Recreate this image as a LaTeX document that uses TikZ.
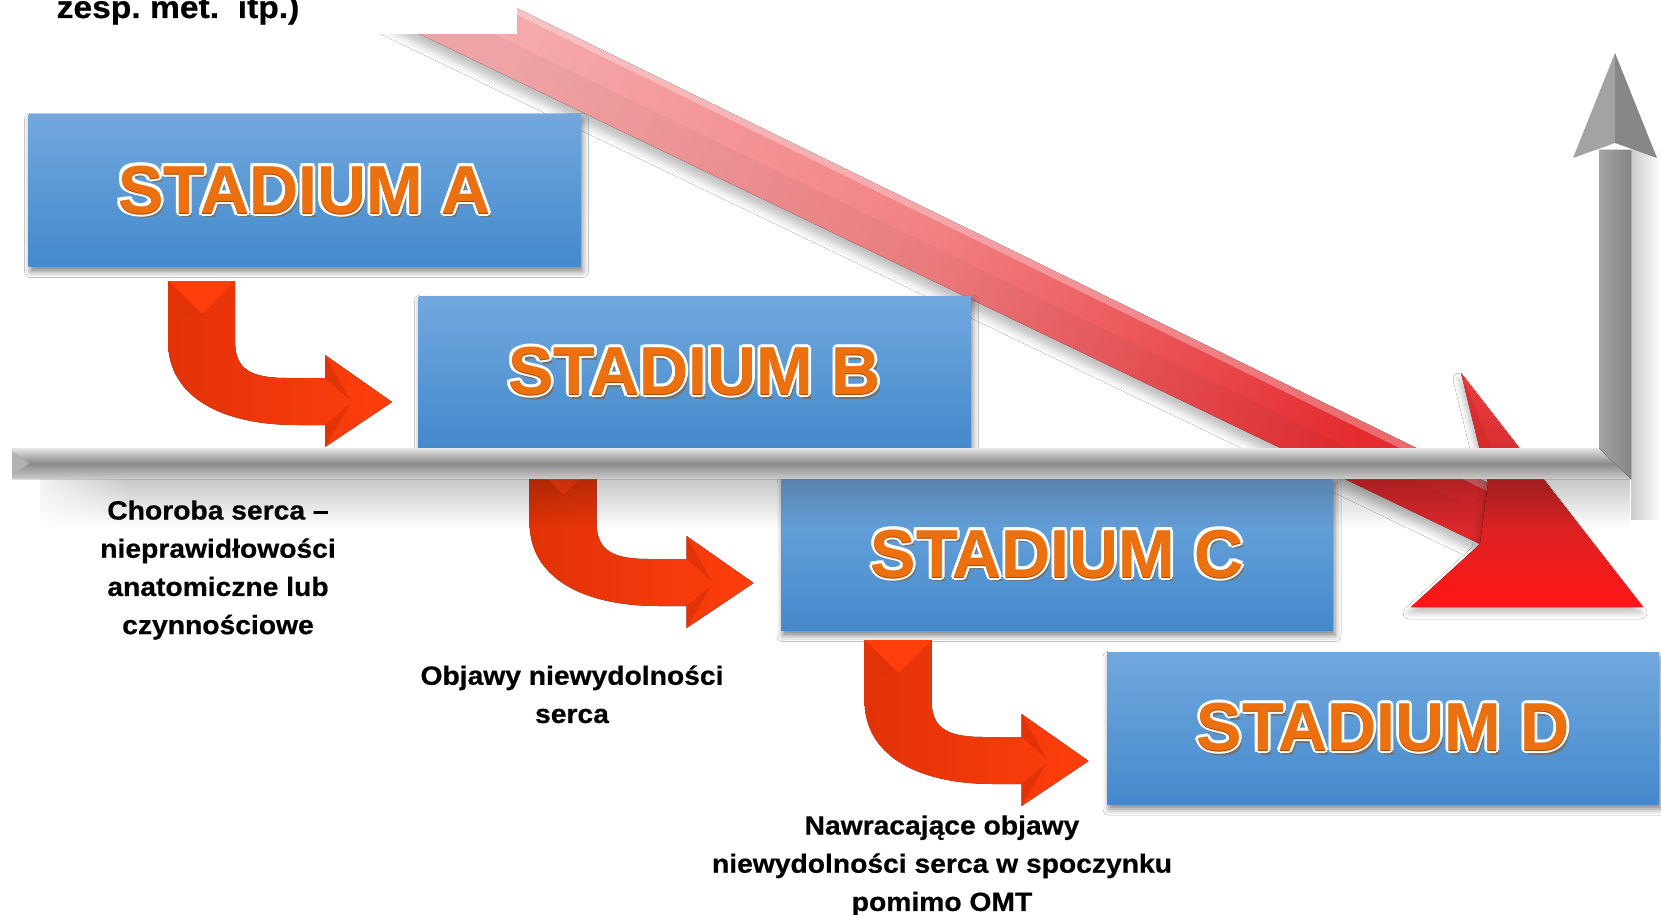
\documentclass[tikz,border=0pt]{standalone}
\usepackage{fontspec}
\setmainfont{Liberation Sans}
\newfontfamily\labelfont{Liberation Sans}[FakeStretch=1.07, BoldFeatures={FakeBold=0.6}]
\usetikzlibrary{shadows.blur,fadings}

% palette
\definecolor{boxtop}{RGB}{113,168,222}
\definecolor{boxbot}{RGB}{68,137,204}
\definecolor{stagetxt}{RGB}{236,112,14}
\definecolor{stageedge}{RGB}{180,70,0}
\definecolor{bendlight}{RGB}{255,62,12}
\definecolor{benddark}{RGB}{226,50,8}
\definecolor{trendlight}{RGB}{246,170,172}
\definecolor{trendmid}{RGB}{242,128,131}
\definecolor{trenddark}{RGB}{228,42,46}
\definecolor{headtop}{RGB}{236,62,64}
\definecolor{headmid}{RGB}{206,38,40}
\definecolor{headbot}{RGB}{255,22,22}

% outlined lettering: shadow, white rim, bevel edge, orange face
\newcommand\offcopy[3]{\rlap{\hspace*{#1}\raisebox{#2}{#3}}}
\newcommand\glowtext[1]{%
  {\color{black!55}\offcopy{1.6pt}{-2.4pt}{#1}}%
  {\color{white}%
   \offcopy{1.5pt}{0pt}{#1}\offcopy{-1.5pt}{0pt}{#1}%
   \offcopy{0pt}{1.5pt}{#1}\offcopy{0pt}{-1.5pt}{#1}%
   \offcopy{1.1pt}{1.1pt}{#1}\offcopy{-1.1pt}{1.1pt}{#1}%
   \offcopy{1.1pt}{-1.1pt}{#1}\offcopy{-1.1pt}{-1.1pt}{#1}}%
  {\color{stageedge}\offcopy{0pt}{-0.6pt}{#1}}%
  \textcolor{stagetxt}{#1}}

\tikzset{
  stagebox/.style={minimum width=276pt, minimum height=76pt, inner sep=0pt,
    top color=boxtop, bottom color=boxbot,
    font=\fontsize{34}{36}\selectfont\bfseries,
    blur shadow={shadow xshift=1pt, shadow yshift=-2.5pt,
                 shadow blur radius=3pt, shadow opacity=50}},
  note/.style={align=center, inner sep=0pt, anchor=north,
    font=\labelfont\bfseries\fontsize{13.2}{19.1}\selectfont\frenchspacing},
  bentarrow/.pic={
    \fill[left color=benddark, right color=bendlight]
      (-224,-121) -- (-157,-121) -- (-157,-60)
      .. controls (-157,-32) and (-140,-24) .. (-105,-24)
      -- (-67,-24) -- (-67,-47) -- (0,0) -- (-67,45) -- (-67,23) -- (-95,23)
      .. controls (-175,23) and (-224,-8) .. (-224,-60) -- cycle;
    \fill[bendlight] (-224,-121) -- (-157,-121) -- (-190,-88) -- cycle;
    \fill[benddark] (-224,-121) -- (-190,-88) -- (-224,-80) -- cycle;
    \fill[benddark] (-67,-47) -- (-42,-2) -- (-67,-24) -- cycle;
    \fill[benddark] (-67,45) -- (-42,2) -- (-67,23) -- cycle;
  }
}

\begin{document}
\begin{tikzpicture}[x=0.5pt, y=-0.5pt]
\useasboundingbox (0,0) rectangle (1661,915);
\fill[white] (0,0) rectangle (1661,915);

% descending trend arrow
\fill[top color=trendlight, bottom color=trenddark, middle color=trendmid,
      shading angle=64,
      blur shadow={shadow xshift=0pt, shadow yshift=-5pt,
                   shadow blur radius=4pt, shadow opacity=25}]
  (349,0) -- (500,0) -- (1488,483) -- (1480,544) -- cycle;
\fill[black, opacity=0.03] (349,0) -- (424,0) -- (1484,513) -- (1480,544) -- cycle;
\fill[white, opacity=0.3] (500,0) -- (1488,483) -- (1487,491) -- (495,4) -- cycle;
\fill[top color=headtop, bottom color=headbot, middle color=headmid,
      blur shadow={shadow xshift=-1pt, shadow yshift=-3pt,
                   shadow blur radius=3pt, shadow opacity=25}]
  (1461,373) -- (1643,607) -- (1411,607) -- (1480,544) -- (1488,483) -- cycle;
\fill[headmid, opacity=0.45] (1461,373) -- (1488,483) -- (1500,470) -- cycle;

% note panel in the upper left
\fill[white] (0,0) rectangle (517,34);
\node[anchor=base, inner sep=0pt,
      font=\labelfont\bfseries\fontsize{15.7}{19}\selectfont\frenchspacing]
  (topnote) at (178,18) {zesp. met.~~itp.)};

% stages
\node[stagebox] (A) at (304.5,190.5) {\glowtext{STADIUM A}};
\node[stagebox] (B) at (694.5,372)   {\glowtext{STADIUM B}};
\node[stagebox] (C) at (1057,554.5)  {\glowtext{STADIUM C}};
\node[stagebox] (D) at (1383,728)    {\glowtext{STADIUM D}};

% bent arrows leading into each stage
\pic at ([shift={(-26,30)}]B.west) {bentarrow};
\pic at ([shift={(-18,33)}]D.west) {bentarrow};
\pic at ([shift={(-27,28.5)}]C.west) {bentarrow};

% shadows cast by the axes
\fill[black, fill opacity=0.22, path fading=south] (40,479) rectangle (1631,528);
\fill[white, path fading=east] (12,479) rectangle (130,530);
\fill[black, fill opacity=0.2, path fading=east] (1631,150) rectangle (1661,520);

% axes
\fill[top color=black!10, bottom color=black!20, middle color=black!46]
  (12,448) -- (1599,448) -- (1631,479) -- (12,479) -- cycle;
\fill[black!30] (12,451) -- (29,463.5) -- (12,476) -- cycle;
\fill[left color=black!36, right color=black!48]
  (1599,150) -- (1631,150) -- (1631,479) -- (1599,448) -- cycle;
\fill[black!36] (1573,158) -- (1615,53) -- (1615,143) -- cycle;
\fill[black!47] (1615,53) -- (1657,158) -- (1615,143) -- cycle;

% descriptions
\node[note] (lblA) at (218,500)
  {Choroba serca –\\nieprawidłowości\\anatomiczne lub\\czynnościowe};
\node[note] (lblB) at (572,665) {Objawy niewydolności\\serca};
\node[note] (lblC) at (942,815)
  {Nawracające objawy\\niewydolności serca w spoczynku\\pomimo OMT};
\end{tikzpicture}
\end{document}
